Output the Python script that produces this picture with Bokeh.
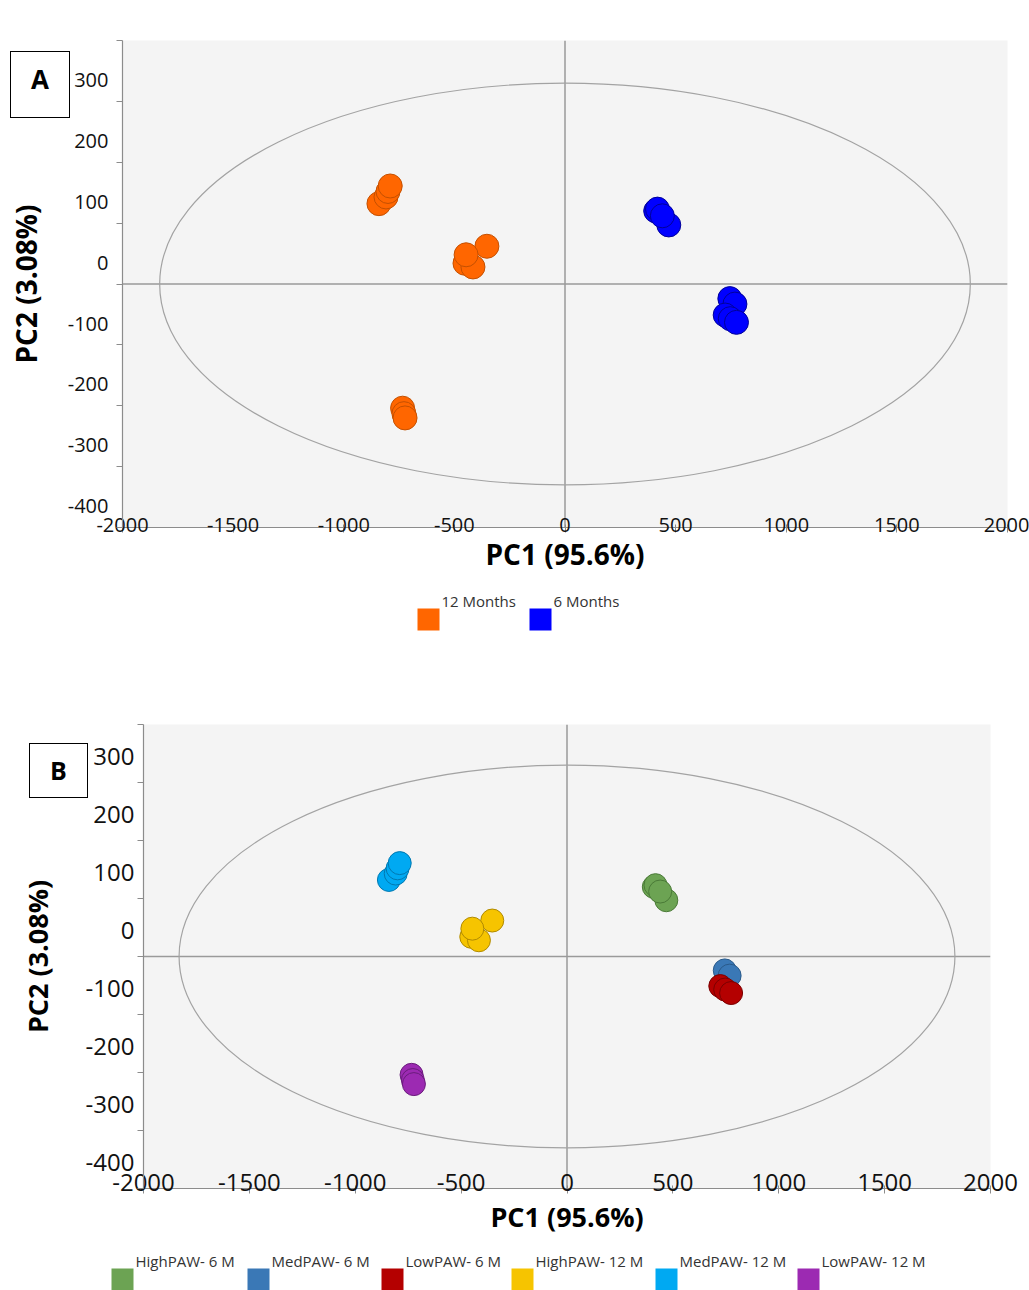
from bokeh.plotting import figure
from bokeh.models import Range1d, FixedTicker, Span, ColumnDataSource, Div
from bokeh.core.properties import value
from bokeh.embed import file_html
from bokeh.resources import INLINE

W = 1029
FONT = "Open Sans"

# ---------------- data ----------------
groups = ["HighPAW- 6 M", "MedPAW- 6 M", "LowPAW- 6 M",
          "HighPAW- 12 M", "MedPAW- 12 M", "LowPAW- 12 M"]
group_age = ["6 Months", "6 Months", "6 Months",
             "12 Months", "12 Months", "12 Months"]
age_legend = ["12 Months", "6 Months"]

pc1_high_6m = [469, 410, 418, 440]
pc2_high_6m = [97, 120, 123, 112]
pc1_med_6m = [745, 768]
pc2_med_6m = [-24, -33]
pc1_low_6m = [724, 747, 775]
pc2_low_6m = [-51, -57, -63]
pc1_high_12m = [-452, -416, -353, -447]
pc2_high_12m = [34, 28, 62, 48]
pc1_med_12m = [-841, -809, -800, -790]
pc2_med_12m = [132, 143, 152, 161]
pc1_low_12m = [-734, -728, -723]
pc2_low_12m = [-204, -213, -220]

# Hotelling T2 ellipse semi-axes
ellipse_a = 1832
ellipse_b = 330

x_ticks = [-2000, -1500, -1000, -500, 0, 500, 1000, 1500, 2000]
y_ticks = [-400, -300, -200, -100, 0, 100, 200, 300, 400]

pc1_by_group = [pc1_high_6m, pc1_med_6m, pc1_low_6m, pc1_high_12m, pc1_med_12m, pc1_low_12m]
pc2_by_group = [pc2_high_6m, pc2_med_6m, pc2_low_6m, pc2_high_12m, pc2_med_12m, pc2_low_12m]

# ---------------- styles ----------------
age_fill = {"12 Months": "#ff6600", "6 Months": "#0000ff"}
age_line = {"12 Months": "#c45000", "6 Months": "#000099"}
group_fill = {"HighPAW- 6 M": "#6ca353", "MedPAW- 6 M": "#3a78b6", "LowPAW- 6 M": "#b40000",
              "HighPAW- 12 M": "#f6c400", "MedPAW- 12 M": "#00a9f2", "LowPAW- 12 M": "#9c2ab2"}
group_line = {"HighPAW- 6 M": "#4a7a37", "MedPAW- 6 M": "#2a5a8a", "LowPAW- 6 M": "#7a0000",
              "HighPAW- 12 M": "#b08a00", "MedPAW- 12 M": "#0078b0", "LowPAW- 12 M": "#6a1c7c"}

AXIS_GRAY = "#8c8c8c"


def build_source(color_mode):
    xs, ys, fills, lines = [], [], [], []
    for g, age, px, py in zip(groups, group_age, pc1_by_group, pc2_by_group):
        for a, b in zip(px, py):
            xs.append(a)
            ys.append(b)
            if color_mode == "age":
                fills.append(age_fill[age]); lines.append(age_line[age])
            else:
                fills.append(group_fill[g]); lines.append(group_line[g])
    return ColumnDataSource(dict(x=xs, y=ys, fill=fills, line=lines))


def make_panel(color_mode, height, b_left, b_right, b_top, b_bottom, pt_size,
               tick_size, lab_shift, ylab_standoff, ytitle_standoff,
               xlab_standoff, xtitle_standoff, title_size):
    p = figure(width=W, height=height, x_range=Range1d(-2000, 2000), y_range=Range1d(-400, 400),
               output_backend="svg", toolbar_location=None,
               min_border_left=b_left, min_border_right=b_right,
               min_border_top=b_top, min_border_bottom=b_bottom,
               background_fill_color="#f4f4f4", border_fill_color="white",
               outline_line_color=None)
    p.grid.visible = False

    p.ellipse(x=[0], y=[0], width=[2 * ellipse_a], height=[2 * ellipse_b],
              fill_color=None, line_color="#a3a3a3", line_width=1.2)
    p.add_layout(Span(location=0, dimension="width", line_color="#9a9a9a",
                      line_width=1.5, level="underlay"))
    p.add_layout(Span(location=0, dimension="height", line_color="#9a9a9a",
                      line_width=1.5, level="underlay"))

    src = build_source(color_mode)
    p.scatter("x", "y", source=src, size=pt_size, fill_color="fill",
              line_color="line", line_width=1)

    xa = p.xaxis[0]
    xa.ticker = FixedTicker(ticks=x_ticks)
    xa.major_label_overrides = {v: str(v) for v in x_ticks}
    xa.axis_label = "PC1 (95.6%)"
    xa.axis_label_text_font = FONT
    xa.axis_label_text_font_style = "bold"
    xa.axis_label_text_font_size = title_size
    xa.axis_label_text_color = "#000000"
    xa.axis_label_standoff = xtitle_standoff
    xa.major_label_text_font = FONT
    xa.major_label_text_font_size = tick_size
    xa.major_label_text_color = "#111111"
    xa.major_label_standoff = xlab_standoff
    xa.axis_line_color = AXIS_GRAY
    xa.axis_line_width = 1.2
    xa.major_tick_line_color = AXIS_GRAY
    xa.major_tick_out = 5
    xa.major_tick_in = 3
    xa.minor_tick_line_color = None

    ya = p.yaxis[0]
    shifted = [v + lab_shift for v in y_ticks if v + lab_shift <= 400]
    ya.ticker = FixedTicker(ticks=shifted, minor_ticks=y_ticks)
    ya.major_label_overrides = {v + lab_shift: str(v) for v in y_ticks}
    ya.axis_label = "PC2 (3.08%)"
    ya.axis_label_text_font = FONT
    ya.axis_label_text_font_style = "bold"
    ya.axis_label_text_font_size = title_size
    ya.axis_label_text_color = "#000000"
    ya.axis_label_standoff = ytitle_standoff
    ya.major_label_text_font = FONT
    ya.major_label_text_font_size = tick_size
    ya.major_label_text_color = "#111111"
    ya.major_label_standoff = ylab_standoff
    ya.axis_line_color = AXIS_GRAY
    ya.axis_line_width = 1.2
    ya.major_tick_line_color = None
    ya.major_tick_out = 0
    ya.major_tick_in = 0
    ya.minor_tick_line_color = AXIS_GRAY
    ya.minor_tick_out = 6
    ya.minor_tick_in = 0
    return p


def legend_fig(labels, colors, sq_left, height, sq_top, text_mid, sq=22, gap=2):
    f = figure(width=W, height=height, x_range=Range1d(0, W), y_range=Range1d(0, height),
               output_backend="svg", toolbar_location=None, min_border=0,
               x_axis_location=None, y_axis_location=None, outline_line_color=None)
    f.grid.visible = False
    n = len(labels)
    src = ColumnDataSource(dict(
        x=[l + sq / 2 for l in sq_left], y=[height - sq_top - sq / 2] * n,
        tx=[l + sq + gap for l in sq_left], ty=[height - text_mid] * n,
        label=labels, color=colors))
    f.rect(x="x", y="y", width=sq, height=sq, fill_color="color", line_color=None, source=src)
    f.text(x="tx", y="ty", text="label", text_font=value(FONT), text_font_size="15px",
           text_color="#333333", text_baseline="middle", text_align="left", source=src)
    return f


def letter_box(letter, left, top, w, h, size, line_h):
    return Div(text=letter, width=w, height=h, styles={
        "position": "absolute", "left": f"{left}px", "top": f"{top}px",
        "border": "1px solid #000000", "background-color": "#ffffff",
        "box-sizing": "border-box", "font-family": "'Open Sans'", "font-weight": "bold",
        "font-size": size, "line-height": line_h, "text-align": "center",
        "color": "#000000", "z-index": "10", "margin": "0px", "padding": "0px"})


pA = make_panel("age", height=575, b_left=122, b_right=22, b_top=40, b_bottom=47, pt_size=24,
                tick_size="20px", lab_shift=35, ylab_standoff=8, ytitle_standoff=20,
                xlab_standoff=-15, xtitle_standoff=0, title_size="28px")

legA = legend_fig(age_legend, [age_fill[a] for a in age_legend], [417, 529],
                  height=126, sq_top=33, text_mid=25)

pB = make_panel("group", height=539, b_left=143, b_right=39, b_top=23, b_bottom=52, pt_size=23,
                tick_size="24px", lab_shift=44, ylab_standoff=3, ytitle_standoff=27,
                xlab_standoff=-20, xtitle_standoff=4, title_size="27px")

legB = legend_fig(groups, [group_fill[g] for g in groups], [111, 247, 381, 511, 655, 797],
                  height=50, sq_top=28, text_mid=20)

boxA = letter_box("A", 10, 51, 60, 67, "26px", "54px")
boxB = letter_box("B", 29, 743, 59, 55, "25px", "53px")

open("out.html", "w").write(file_html([pA, legA, pB, legB, boxA, boxB], INLINE))
